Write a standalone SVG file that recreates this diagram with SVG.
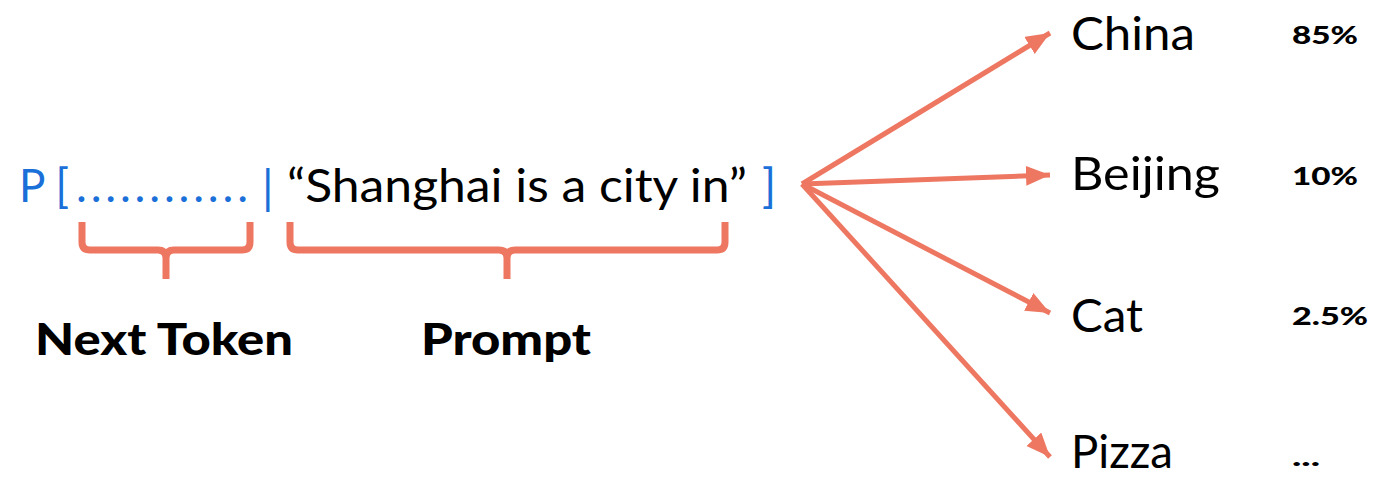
<svg xmlns="http://www.w3.org/2000/svg" width="1375" height="477" viewBox="0 0 1375 477">
  <style>
    .light { font-family: Lato, "Noto Sans", sans-serif; font-weight: 400; font-size: 46px; fill: #000; }
    .blue { fill: #1a6fd8; }
    .bold { font-family: Lato, "Noto Sans", sans-serif; font-weight: 900; fill: #000; }
    .label { font-size: 43px; }
    .pct { font-size: 25px; }
    .brace { fill: none; stroke: #ee7762; stroke-width: 7; stroke-linejoin: round; }
    .arrow { fill: none; stroke: #ee7762; stroke-width: 5; marker-end: url(#head); }
  </style>
  <defs>
    <marker id="head" markerUnits="userSpaceOnUse" markerWidth="26" markerHeight="22" refX="24" refY="10" orient="auto">
      <path d="M0,0 L24,10 L0,20 Z" fill="#ee7762"/>
    </marker>
  </defs>
  <rect width="1375" height="477" fill="#fff"/>

  <!-- prompt sequence -->
  <g id="sequence">
    <text class="light blue" x="19" y="202" textLength="50" lengthAdjust="spacingAndGlyphs">P [</text>
    <text class="light blue" x="76" y="202" textLength="172" lengthAdjust="spacing">............</text>
    <text class="light blue" x="262" y="204" font-size="50">|</text>
    <text class="light" x="287" y="202" textLength="460" lengthAdjust="spacingAndGlyphs">“Shanghai is a city in”</text>
    <text class="light blue" x="762" y="202">]</text>
  </g>

  <!-- braces -->
  <g id="next-token">
    <path class="brace" d="M82,222 V242 Q82,250 90,250 H158 Q166,250 166,258 V279 M166,258 Q166,250 174,250 H242 Q250,250 250,242 V222"/>
    <text class="bold label" x="35" y="355" textLength="258" lengthAdjust="spacingAndGlyphs">Next Token</text>
  </g>
  <g id="prompt">
    <path class="brace" d="M290,222 V242 Q290,250 298,250 H499 Q507,250 507,258 V279 M507,258 Q507,250 515,250 H717 Q725,250 725,242 V222"/>
    <text class="bold label" x="421" y="355" textLength="170" lengthAdjust="spacingAndGlyphs">Prompt</text>
  </g>

  <!-- connectors -->
  <g id="connectors">
    <line class="arrow" x1="802" y1="184" x2="1050" y2="33"/>
    <line class="arrow" x1="802" y1="184" x2="1050" y2="175"/>
    <line class="arrow" x1="802" y1="184" x2="1050" y2="313"/>
    <line class="arrow" x1="802" y1="184" x2="1050" y2="457"/>
  </g>

  <!-- candidate tokens -->
  <g id="china">
    <text class="light" x="1071" y="50" textLength="124" lengthAdjust="spacingAndGlyphs">China</text>
    <text class="bold pct" x="1292" y="44" textLength="66" lengthAdjust="spacingAndGlyphs">85%</text>
  </g>
  <g id="beijing">
    <text class="light" x="1071" y="190" textLength="149" lengthAdjust="spacingAndGlyphs">Beijing</text>
    <text class="bold pct" x="1292" y="185" textLength="66" lengthAdjust="spacingAndGlyphs">10%</text>
  </g>
  <g id="cat">
    <text class="light" x="1071" y="332" textLength="72" lengthAdjust="spacingAndGlyphs">Cat</text>
    <text class="bold pct" x="1292" y="325" textLength="76" lengthAdjust="spacingAndGlyphs">2.5%</text>
  </g>
  <g id="pizza">
    <text class="light" x="1071" y="468" textLength="102" lengthAdjust="spacingAndGlyphs">Pizza</text>
    <text class="bold pct" x="1292" y="466" textLength="28" lengthAdjust="spacingAndGlyphs">...</text>
  </g>
</svg>
